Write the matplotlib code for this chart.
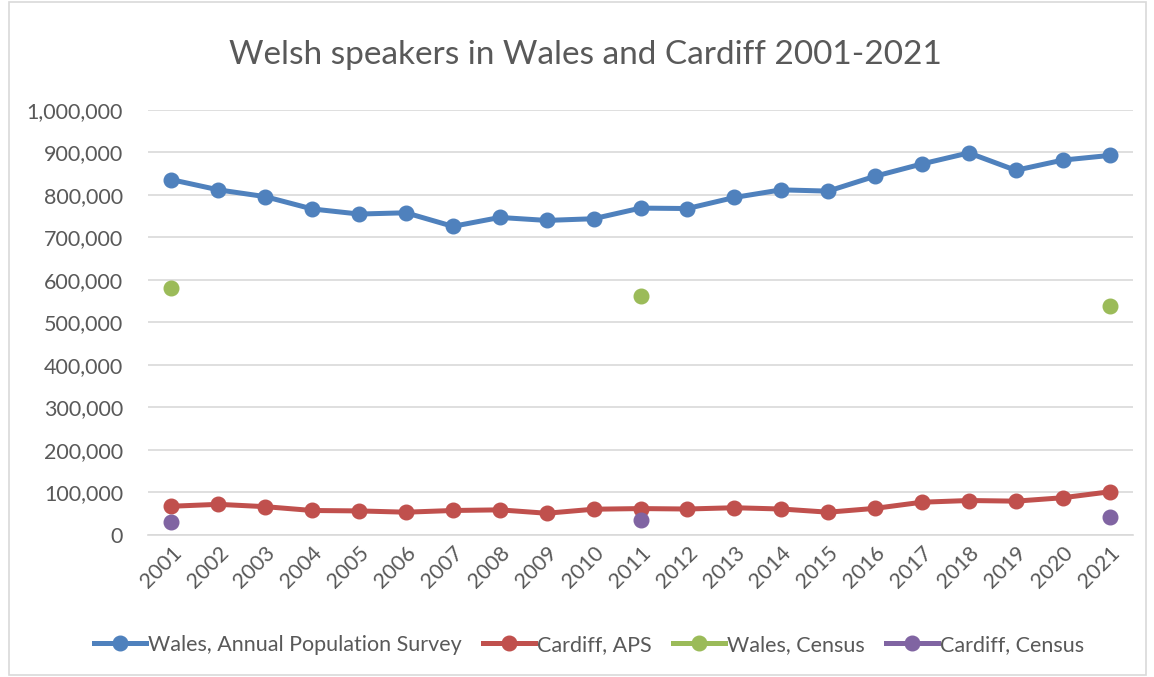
import matplotlib
matplotlib.use("Agg")
import matplotlib.pyplot as plt
from matplotlib.ticker import FuncFormatter
from matplotlib.patches import Rectangle
from matplotlib.lines import Line2D

years = list(range(2001, 2022))
wales_aps = [836000, 812000, 796000, 767000, 755000, 758000, 726000, 747000, 740000, 744000,
             769000, 768000, 794000, 812000, 809000, 844000, 873000, 899000, 858000, 882000, 893000]
cardiff_aps = [67000, 71500, 66000, 57000, 56000, 53000, 57000, 58500, 50500, 60000,
               61500, 60500, 63500, 60500, 53000, 62000, 76500, 80500, 79000, 87000, 101000]
census_years = [2001, 2011, 2021]
wales_census = [582000, 562000, 538000]
cardiff_census = [31000, 35000, 42000]

title = "Welsh speakers in Wales and Cardiff 2001-2021"
labels = ["Wales, Annual Population Survey", "Cardiff, APS", "Wales, Census", "Cardiff, Census"]
colors = ["#4F81BD", "#C0504D", "#9BBB59", "#8064A2"]

plt.rcParams['font.family'] = ['Lato', 'DejaVu Sans']
fig = plt.figure(figsize=(11.54, 6.77), dpi=100)
fig.patches.append(Rectangle((0.008, 0.003), 0.985, 0.994, transform=fig.transFigure,
                             fill=False, edgecolor="#D9D9D9", lw=1.2))
W, H = 1154, 677
ax = fig.add_axes([148 / W, 1 - 534.7 / H, (1133 - 148) / W, (534.7 - 110) / H])

tc = "#595959"
LW, MS = 3.6, 10.5
ax.plot(years, wales_aps, color=colors[0], lw=LW, marker='o', ms=MS, label=labels[0], zorder=3)
ax.plot(years, cardiff_aps, color=colors[1], lw=LW, marker='o', ms=MS, label=labels[1], zorder=3)
ax.plot(census_years, wales_census, color=colors[2], marker='o', ms=MS, ls='none', label=labels[2], zorder=3)
ax.plot(census_years, cardiff_census, color=colors[3], marker='o', ms=MS, ls='none', label=labels[3], zorder=4)

ax.set_xlim(2000.5, 2021.5)
ax.set_ylim(0, 1000000)
ax.set_yticks(range(0, 1000001, 100000))
ax.yaxis.set_major_formatter(FuncFormatter(lambda v, p: f"{int(v):,}"))
ax.set_xticks(years)
ax.set_xticklabels([str(y) for y in years], rotation=45, ha='right', va='top', rotation_mode='anchor')
ax.grid(axis='y', color="#D9D9D9", lw=1.2)
ax.set_axisbelow(True)
for s in ['top', 'right', 'left']:
    ax.spines[s].set_visible(False)
ax.spines['bottom'].set_color("#D9D9D9")
ax.spines['bottom'].set_linewidth(1.2)
ax.tick_params(axis='both', length=0, colors=tc, labelsize=15.5)
ax.tick_params(axis='y', pad=18)
ax.tick_params(axis='x', pad=6)

fig.text(585 / W, 1 - 55 / H, title, ha='center', va='center', fontsize=24, color=tc)

handles = [Line2D([], [], color=c, lw=LW, marker='o', ms=MS) for c in colors]
fig.legend(handles, labels, loc='center', bbox_to_anchor=(589 / W, 1 - 645 / H), ncol=4, frameon=False,
           fontsize=15.5, labelcolor=tc, handlelength=2.4, handletextpad=0.1, columnspacing=1.0)

fig.savefig("out.png", dpi=100)
